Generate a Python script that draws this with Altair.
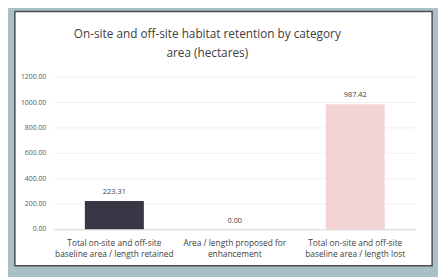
import altair as alt
import pandas as pd

# --- data ---
categories = [
    "Total on-site and off-site|baseline area / length retained",
    "Area / length proposed for|enhancement",
    "Total on-site and off-site|baseline area / length lost",
]
values = [223.31, 0.00, 987.42]
bar_colors = ["#373745", "#373745", "#f4d3d4"]
y_ticks = [0, 200, 400, 600, 800, 1000, 1200]
title_lines = ["On-site and off-site habitat retention by category", "area (hectares)"]

df = pd.DataFrame({"cat": categories, "val": values, "color": bar_colors})
grid_df = pd.DataFrame({"t": y_ticks})
panel_df = pd.DataFrame({"a": [0]})
title_df = pd.DataFrame({"line": title_lines, "idx": [0, 1]})

W, H = 368, 155
FONT = "Open Sans"

xscale = alt.Scale(paddingInner=0.51, paddingOuter=0.255)
yscale = alt.Scale(domain=[0, 1200], nice=False)

panel = alt.Chart(panel_df).mark_rect(
    fill="white", stroke="#4d4d4d", strokeWidth=1.5
).encode(
    x=alt.value(-40), x2=alt.value(385), y=alt.value(-67), y2=alt.value(192)
)

grid = alt.Chart(grid_df).mark_rule(color="#efefef", strokeWidth=1).encode(
    y=alt.Y("t:Q", scale=yscale, axis=None)
)

ylabels = alt.Chart(grid_df).mark_text(
    align="right", baseline="middle", font=FONT, fontSize=7, color="#595959"
).encode(
    x=alt.value(-8),
    y=alt.Y("t:Q", scale=yscale, axis=None),
    text=alt.Text("t:Q", format=".2f"),
)

bars = alt.Chart(df).mark_bar().encode(
    x=alt.X(
        "cat:N", sort=None, scale=xscale, title=None,
        axis=alt.Axis(
            labelAngle=0, labelExpr="split(datum.label, '|')",
            labelFont=FONT, labelFontSize=8.5, labelColor="#404040",
            labelLineHeight=12, labelPadding=9, ticks=False,
            domainColor="#d9d9d9", zindex=1,
        ),
    ),
    y=alt.Y("val:Q", scale=yscale, title=None, axis=None),
    color=alt.Color("color:N", scale=None),
)

labels = alt.Chart(df).mark_text(
    baseline="bottom", dy=-5, font=FONT, fontSize=7.5, color="#404040"
).encode(
    x=alt.X("cat:N", sort=None, scale=xscale),
    y=alt.Y("val:Q", scale=yscale, axis=None),
    text=alt.Text("val:Q", format=".2f"),
)

def title_line(i, ypos):
    return alt.Chart(title_df).transform_filter(alt.datum.idx == i).mark_text(
        font=FONT, fontSize=12, color="#404040", baseline="middle", align="center"
    ).encode(x=alt.value(156), y=alt.value(ypos), text="line:N")

chart = alt.layer(
    panel, grid, ylabels, bars, labels, title_line(0, -44), title_line(1, -25)
).properties(
    width=W, height=H,
    background="#a9c0c5",
    padding={"left": 47, "top": 68, "right": 23, "bottom": 46},
    autosize=alt.AutoSizeParams(type="none"),
).configure_view(stroke=None)

chart.save("out.html", embed_options={"renderer": "svg", "actions": False})
